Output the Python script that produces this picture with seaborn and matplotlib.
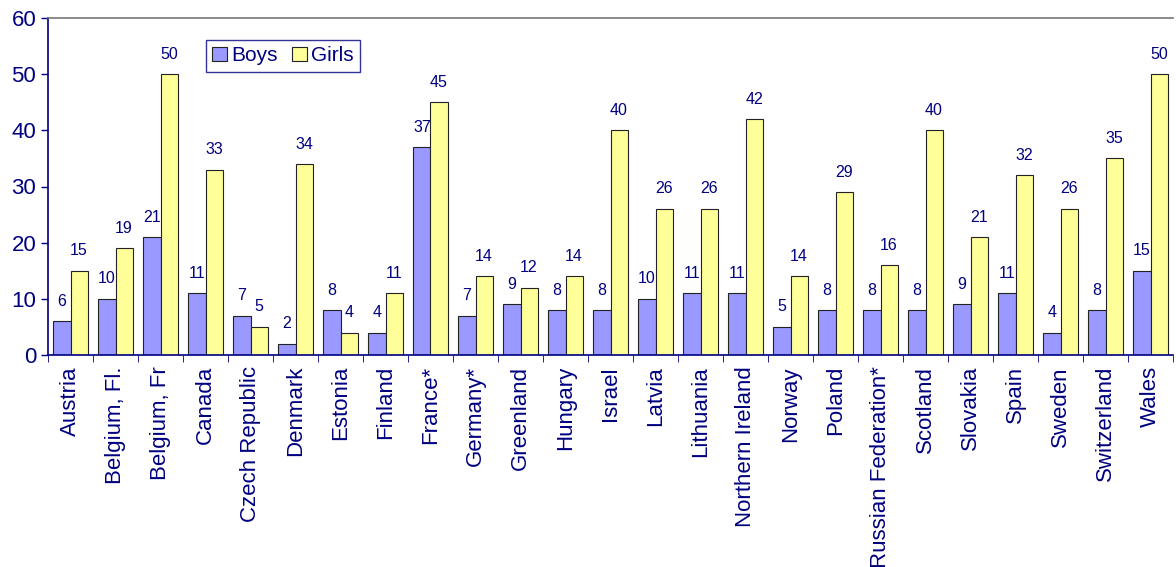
import matplotlib
matplotlib.use("Agg")
import matplotlib.pyplot as plt
import seaborn as sns
import pandas as pd

countries = ["Austria", "Belgium, Fl.", "Belgium, Fr", "Canada", "Czech Republic",
             "Denmark", "Estonia", "Finland", "France*", "Germany*", "Greenland",
             "Hungary", "Israel", "Latvia", "Lithuania", "Northern Ireland", "Norway",
             "Poland", "Russian Federation*", "Scotland", "Slovakia", "Spain",
             "Sweden", "Switzerland", "Wales"]
boys = [6, 10, 21, 11, 7, 2, 8, 4, 37, 7, 9, 8, 8, 10, 11, 11, 5, 8, 8, 8, 9, 11, 4, 8, 15]
girls = [15, 19, 50, 33, 5, 34, 4, 11, 45, 14, 12, 14, 40, 26, 26, 42, 14, 29, 16, 40, 21, 32, 26, 35, 50]

df = pd.DataFrame({"country": countries * 2,
                   "value": boys + girls,
                   "sex": ["Boys"] * len(boys) + ["Girls"] * len(girls)})

navy = "#000080"
sns.set_style("white")
plt.rcParams["font.family"] = ["Liberation Sans", "DejaVu Sans"]

fig = plt.figure(figsize=(11.76, 5.67), dpi=100)
ax = fig.add_axes([48 / 1176, 1 - 355 / 567, 1125 / 1176, 337 / 567])

sns.barplot(data=df, x="country", y="value", hue="sex", order=countries,
            palette={"Boys": "#9999FF", "Girls": "#FFFF99"}, width=0.76,
            edgecolor="#222222", linewidth=0.8, saturation=1, ax=ax)

for cont in ax.containers:
    ax.bar_label(cont, padding=9, color=navy, fontsize=11.5)

ax.set_ylim(0, 60)
ax.set_xlim(-0.5, len(countries) - 0.5)
ax.set_yticks(range(0, 61, 10))
ax.set_xlabel("")
ax.set_ylabel("")
ax.tick_params(axis="y", colors=navy, labelsize=16, length=5, width=1, direction="out", left=True)
ax.tick_params(axis="x", colors=navy, labelsize=16, length=0, pad=8)
plt.setp(ax.get_xticklabels(), rotation=90)

# category separator ticks on the bottom axis
ax.set_xticks([i + 0.5 for i in range(-1, len(countries))], minor=True)
ax.tick_params(axis="x", which="minor", length=5, color=navy, bottom=True)

ax.spines["left"].set_color(navy)
ax.spines["bottom"].set_color(navy)
ax.spines["top"].set_color("#777777")
ax.spines["right"].set_visible(False)
for s in ["left", "bottom", "top"]:
    ax.spines[s].set_linewidth(1.2)

leg = ax.legend(loc="upper left", bbox_to_anchor=(158 / 1125, 1 - 22 / 337), ncol=2,
                frameon=True, fancybox=False, fontsize=15, handlelength=0.7,
                handleheight=0.7, handletextpad=0.2, columnspacing=0.7,
                borderpad=0.3, borderaxespad=0)
leg.get_frame().set_edgecolor(navy)
leg.get_frame().set_linewidth(1)
for t in leg.get_texts():
    t.set_color(navy)

fig.savefig("out.png", dpi=100)
